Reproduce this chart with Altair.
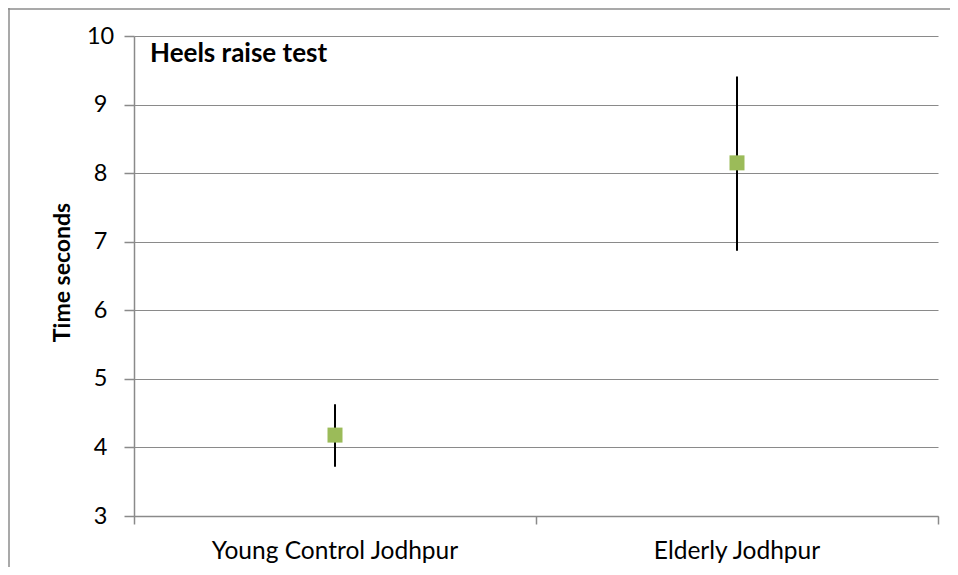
import altair as alt
import pandas as pd

groups = ["Young Control Jodhpur", "Elderly Jodhpur"]
group_pos = [0.5, 1.5]
means = [4.18, 8.15]
lower = [3.72, 6.87]
upper = [4.63, 9.41]
y_ticks = [3, 4, 5, 6, 7, 8, 9, 10]
x_ticks = [0, 1, 2]
chart_title = ["Heels raise test"]
y_title = "Time seconds"

FONT = "Lato"
GRID = "#8a8a8a"

df = pd.DataFrame({"group": groups, "pos": group_pos, "mean": means,
                   "lo": lower, "hi": upper})

x_enc = alt.X("pos:Q", scale=alt.Scale(domain=[0, 2], nice=False, zero=False),
              axis=alt.Axis(values=x_ticks, labels=False, grid=False, title=None,
                            tickSize=8, tickColor=GRID, domainColor=GRID,
                            tickWidth=1.5, domainWidth=1.5))
y_axis = alt.Axis(values=y_ticks, grid=True, gridColor=GRID, gridWidth=1.2,
                  tickSize=10, tickColor=GRID, domainColor=GRID, tickWidth=1.5,
                  domainWidth=1.5, labelAlign="center", labelBaseline="middle",
                  labelPadding=24, labelFont=FONT, labelFontSize=23.5,
                  labelColor="black", title=y_title, titleFont=FONT,
                  titleFontSize=23, titleFontWeight="bold", titleColor="black",
                  titleX=-72, titleY=236, titleAngle=-90, titleAlign="center",
                  titleBaseline="middle")
y_scale = alt.Scale(domain=[3, 10], nice=False, zero=False)

rules = alt.Chart(df).mark_rule(color="black", strokeWidth=2).encode(
    x=x_enc,
    y=alt.Y("lo:Q", scale=y_scale, axis=y_axis),
    y2="hi:Q",
)

points = alt.Chart(df).mark_square(size=225, color="#9BBB59", opacity=1).encode(
    x=x_enc,
    y=alt.Y("mean:Q", scale=y_scale, axis=y_axis),
)

labels = alt.Chart(df).mark_text(font=FONT, fontSize=24.5, color="black",
                                 align="center", baseline="alphabetic").encode(
    x=x_enc,
    y=alt.value(523),
    text="group:N",
)

title = alt.Chart(pd.DataFrame({"t": chart_title})).mark_text(
    font=FONT, fontSize=26, fontWeight="bold", color="black",
    align="left", baseline="alphabetic").encode(
    x=alt.value(16), y=alt.value(26), text="t:N")

border_left = alt.Chart(pd.DataFrame({"t": chart_title})).mark_rule(
    color="#8c8c8c", strokeWidth=1.5).encode(
    x=alt.value(-125), y=alt.value(-28), y2=alt.value(545))
border_top = alt.Chart(pd.DataFrame({"t": chart_title})).mark_rule(
    color="#8c8c8c", strokeWidth=1.5).encode(
    x=alt.value(-126), x2=alt.value(816), y=alt.value(-27))

chart = alt.layer(border_left, border_top, rules, points, labels, title).properties(
    width=804, height=480,
    padding={"left": 126, "top": 28, "right": 12, "bottom": 51},
    autosize="none",
).configure_view(stroke=None)

chart.save("out.html", embed_options={"renderer": "svg", "actions": False})
